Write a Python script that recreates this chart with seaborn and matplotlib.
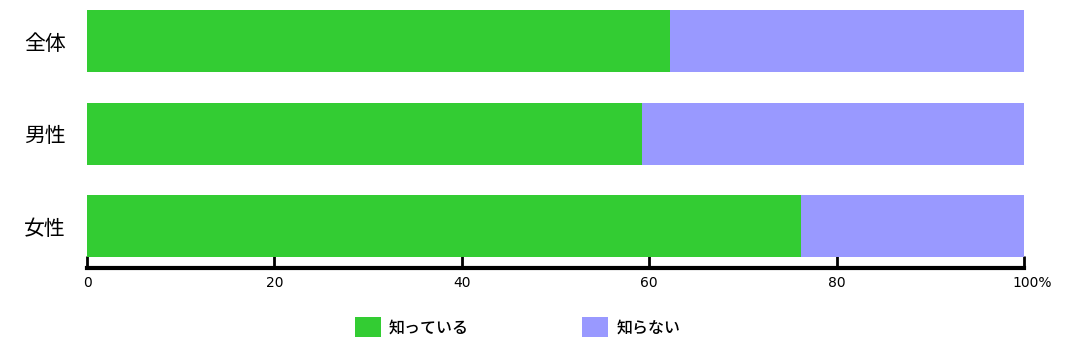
import matplotlib
matplotlib.use("Agg")
import matplotlib.pyplot as plt
import matplotlib.transforms as mtransforms
import seaborn as sns
import pandas as pd
from matplotlib.patches import Patch

categories = ["全体", "男性", "女性"]
know = [62.2, 59.2, 76.2]
dont_know = [37.8, 40.8, 23.8]
tick_values = [0, 20, 40, 60, 80, 100]
tick_labels = ["0", "20", "40", "60", "80", "100%"]
series_names = ["知っている", "知らない"]
colors = ["#33CC33", "#9999FF"]

sns.set_style("white")
plt.rcParams['font.family'] = ['Noto Sans CJK JP', 'DejaVu Sans']
plt.rcParams['text.color'] = 'black'
plt.rcParams['xtick.color'] = 'black'
plt.rcParams['ytick.color'] = 'black'

df = pd.DataFrame({"cat": categories, "know": know,
                   "total": [a + b for a, b in zip(know, dont_know)]})

fig = plt.figure(figsize=(10.7, 3.58), dpi=100)
ax = fig.add_axes([87/1070, 90/358, (1024-87)/1070, (268-8.6)/358])

sns.barplot(data=df, x="total", y="cat", color=colors[1], width=0.67,
            orient="h", ax=ax, saturation=1, linewidth=0)
sns.barplot(data=df, x="know", y="cat", color=colors[0], width=0.67,
            orient="h", ax=ax, saturation=1, linewidth=0)

ax.set_xlim(0, 100)
ax.set_ylim(2.45, -0.35)
ax.set_xlabel("")
ax.set_ylabel("")
for s in ["top", "right", "left"]:
    ax.spines[s].set_visible(False)
ax.spines["bottom"].set_linewidth(3)
ax.spines["bottom"].set_color("black")
ax.set_xticks(tick_values)
ax.set_xticklabels(tick_labels)
ax.tick_params(axis="x", bottom=True, direction="in", length=9, width=2,
               pad=6, color="black", labelcolor="black", labelsize=10)
ax.tick_params(axis="y", length=0, pad=15, labelsize=15, labelcolor="black")
xlabs = ax.get_xticklabels()
for lab in xlabs:
    lab.set_fontfamily(['DejaVu Sans'])
last = xlabs[-1]
last.set_horizontalalignment('left')
last.set_transform(last.get_transform() +
                   mtransforms.ScaledTranslation(-12/100, 0, fig.dpi_scale_trans))

handles = [Patch(facecolor=c, edgecolor="none") for c in colors]
fig.legend(handles, series_names, loc="center left",
           bbox_to_anchor=(355/1070, 1 - 327/358), ncol=2, frameon=False,
           handlelength=1.63, handleheight=1.63,
           handletextpad=0.5, columnspacing=7.1, borderaxespad=0,
           borderpad=0, prop={'weight': 'medium', 'size': 11.5})

fig.savefig("out.png", dpi=100)
